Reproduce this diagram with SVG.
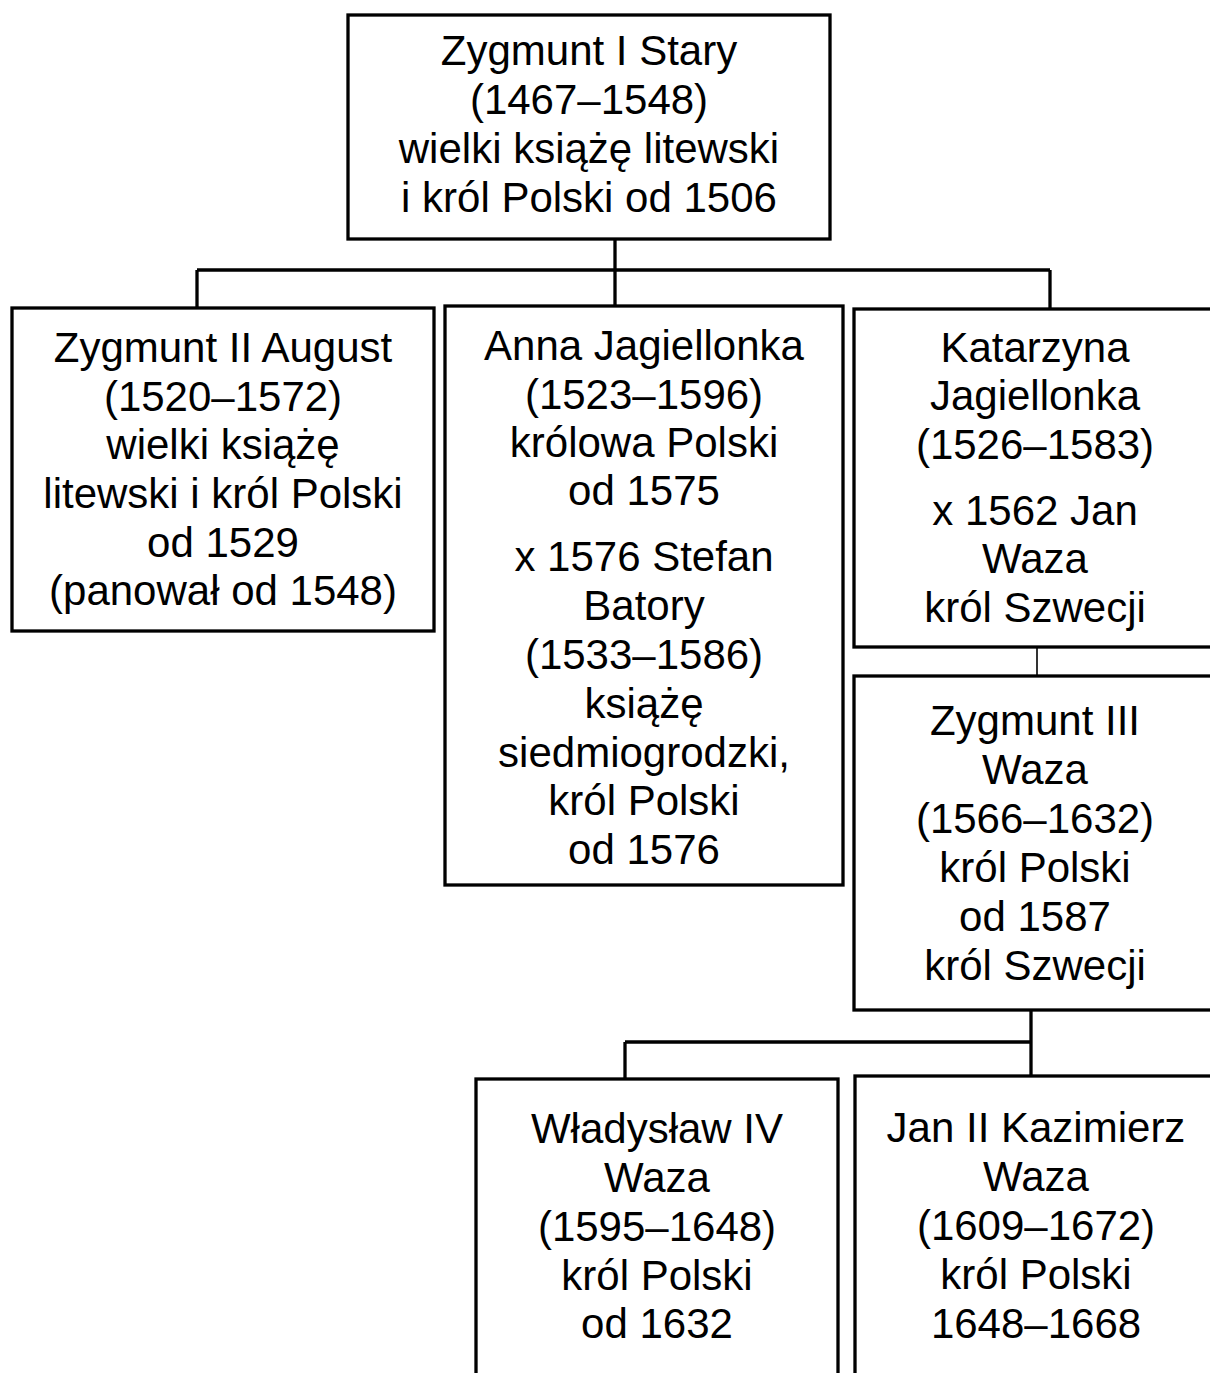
<svg xmlns="http://www.w3.org/2000/svg" width="1210" height="1373" viewBox="0 0 1210 1373">
<style>
.box{fill:#fff;stroke:#000;stroke-width:3.3}
.c{fill:none;stroke:#000;stroke-width:3.3}
.thin{fill:none;stroke:#000;stroke-width:1.6}
text{font-family:"Liberation Sans",Arial,sans-serif;font-size:42px;fill:#000;text-anchor:middle}
</style>
<rect width="1210" height="1373" fill="#fff"/>
<g id="connectors">
<path class="c" d="M615 240V305M197 270H1050M197 270V308M1050 270V309"/>
<path class="thin" d="M1037 647V676"/>
<path class="c" d="M1031 1010V1076M625 1042H1031M625 1042V1079"/>
</g>
<g id="zygmunt1">
<rect class="box" x="348" y="15" width="482" height="224"/>
<text x="589"><tspan x="589" y="65">Zygmunt I Stary</tspan><tspan x="589" y="114">(1467–1548)</tspan><tspan x="589" y="163">wielki książę litewski</tspan><tspan x="589" y="212">i król Polski od 1506</tspan></text>
</g>
<g id="zygmunt2">
<rect class="box" x="12" y="308" width="422" height="323"/>
<text><tspan x="223" y="362">Zygmunt II August</tspan><tspan x="223" y="411">(1520–1572)</tspan><tspan x="223" y="459">wielki książę</tspan><tspan x="223" y="508">litewski i król Polski</tspan><tspan x="223" y="557">od 1529</tspan><tspan x="223" y="605">(panował od 1548)</tspan></text>
</g>
<g id="anna">
<rect class="box" x="445" y="306" width="398" height="579"/>
<text><tspan x="644" y="360">Anna Jagiellonka</tspan><tspan x="644" y="409">(1523–1596)</tspan><tspan x="644" y="457">królowa Polski</tspan><tspan x="644" y="505">od 1575</tspan><tspan x="644" y="571">x 1576 Stefan</tspan><tspan x="644" y="620">Batory</tspan><tspan x="644" y="669">(1533–1586)</tspan><tspan x="644" y="718">książę</tspan><tspan x="644" y="767">siedmiogrodzki,</tspan><tspan x="644" y="815">król Polski</tspan><tspan x="644" y="864">od 1576</tspan></text>
</g>
<g id="katarzyna">
<rect class="box" x="854" y="309" width="362" height="338"/>
<text><tspan x="1035" y="362">Katarzyna</tspan><tspan x="1035" y="410">Jagiellonka</tspan><tspan x="1035" y="459">(1526–1583)</tspan><tspan x="1035" y="525">x 1562 Jan</tspan><tspan x="1035" y="573">Waza</tspan><tspan x="1035" y="622">król Szwecji</tspan></text>
</g>
<g id="zygmunt3">
<rect class="box" x="854" y="676" width="362" height="334"/>
<text><tspan x="1035" y="735">Zygmunt III</tspan><tspan x="1035" y="784">Waza</tspan><tspan x="1035" y="833">(1566–1632)</tspan><tspan x="1035" y="882">król Polski</tspan><tspan x="1035" y="931">od 1587</tspan><tspan x="1035" y="980">król Szwecji</tspan></text>
</g>
<g id="wladyslaw">
<rect class="box" x="476" y="1079" width="362" height="310"/>
<text><tspan x="657" y="1143">Władysław IV</tspan><tspan x="657" y="1192">Waza</tspan><tspan x="657" y="1241">(1595–1648)</tspan><tspan x="657" y="1290">król Polski</tspan><tspan x="657" y="1338">od 1632</tspan></text>
</g>
<g id="jan2">
<rect class="box" x="855" y="1076" width="362" height="313"/>
<text><tspan x="1036" y="1142">Jan II Kazimierz</tspan><tspan x="1036" y="1191">Waza</tspan><tspan x="1036" y="1240">(1609–1672)</tspan><tspan x="1036" y="1289">król Polski</tspan><tspan x="1036" y="1338">1648–1668</tspan></text>
</g>
</svg>
